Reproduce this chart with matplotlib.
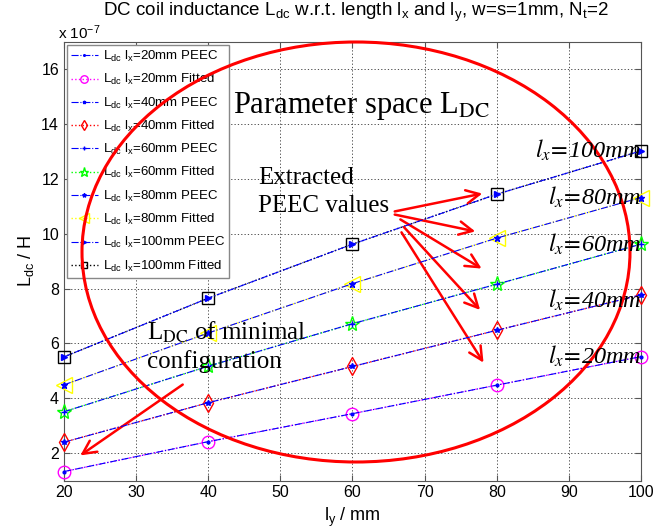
import matplotlib
matplotlib.use("Agg")
import matplotlib.pyplot as plt
from matplotlib.patches import Ellipse

plt.rcParams['font.family'] = ['Liberation Sans', 'DejaVu Sans']
plt.rcParams['mathtext.fontset'] = 'custom'
plt.rcParams['mathtext.rm'] = 'Liberation Sans'
plt.rcParams['mathtext.it'] = 'Liberation Sans:italic'

ly = [20, 40, 60, 80, 100]
lx_labels = ['20', '40', '60', '80', '100']
L_lx20 = [1.33, 2.42, 3.44, 4.48, 5.52]
L_lx40 = [2.40, 3.84, 5.16, 6.48, 7.77]
L_lx60 = [3.51, 5.17, 6.72, 8.16, 9.62]
L_lx80 = [4.49, 6.38, 8.18, 9.84, 11.32]
L_lx100 = [5.51, 7.65, 9.62, 11.44, 13.02]
series = [L_lx20, L_lx40, L_lx60, L_lx80, L_lx100]

peec_markers = ['.', '*', '+', '*', '>']
peec_ms = [4, 4, 5, 5, 5]
fit_colors = ['#ff00ff', '#ff0000', '#00ff00', '#ffff00', '#000000']
fit_markers = ['o', 'd', '*', '<', 's']
fit_ms = [9, 9, 11, 11, 8]

fig = plt.figure(figsize=(6.65, 5.3), dpi=100)
ax = fig.add_axes([0.0962, 0.0932, 0.8677, 0.8281])

for i, vals in enumerate(series):
    ax.plot(ly, vals, linestyle='-.', color='#0000ff', lw=0.8,
            marker=peec_markers[i], ms=peec_ms[i], mfc='#0000ff', mec='#0000ff',
            label=r'L$_{\rm dc}$ l$_{\rm x}$=' + lx_labels[i] + 'mm PEEC', zorder=4, clip_on=False)
    ax.plot(ly, vals, linestyle=':', color=fit_colors[i], lw=1.0,
            marker=fit_markers[i], ms=fit_ms[i], mfc='none', mec=fit_colors[i],
            label=r'L$_{\rm dc}$ l$_{\rm x}$=' + lx_labels[i] + 'mm Fitted', zorder=3, clip_on=False)

ax.set_xlim(20, 100)
ax.set_ylim(1, 17)
ax.set_xticks(range(20, 101, 10))
ax.set_yticks(range(2, 17, 2))
ax.tick_params(direction='in', top=True, right=True, labelsize=11.5, length=4, color='#555555')
for s in ax.spines.values():
    s.set_color('#555555')
ax.grid(True, linestyle=(0, (1.5, 2.5)), color='#333333', lw=0.6)

ax.set_xlabel(r'l$_{\rm y}$ / mm', fontsize=13)
ax.set_ylabel(r'L$_{\rm dc}$ / H', fontsize=13)
fig.text(356 / 665, 1 - 12 / 530,
         r'DC coil inductance L$_{\rm dc}$ w.r.t. length l$_{\rm x}$ and l$_{\rm y}$, w=s=1mm, N$_{\rm t}$=2',
         fontsize=13.5, ha='center', va='center')
ax.text(-0.01, 1.0, r'x 10$^{-7}$', transform=ax.transAxes, fontsize=11, ha='left', va='bottom')

leg = ax.legend(loc='upper left', fontsize=9.5, frameon=True, fancybox=False,
                edgecolor='#888888', borderaxespad=0.25, handlelength=2.0,
                labelspacing=0.62, borderpad=0.3, handletextpad=0.4, markerscale=0.6,
                framealpha=1.0)
leg.get_frame().set_linewidth(1.0)
leg.set_zorder(2)

H = 530
def px(x, y):
    return (x, H - y)

ell = Ellipse(px(356, 252), 548, 420, transform=None, fill=False,
              edgecolor='#ff0000', lw=2.2, zorder=5, clip_on=False)
fig.patches.append(ell)

serif = ['Liberation Serif', 'DejaVu Serif']
fig.text(233 / 665, 1 - 106 / H, r'Parameter space L$_{\mathrm{DC}}$', family=serif,
         fontsize=22, va='center', ha='left', math_fontfamily='stix')
fig.text(258 / 665, 1 - 178 / H, 'Extracted', family=serif, fontsize=18, va='center')
fig.text(258 / 665, 1 - 206 / H, 'PEEC values', family=serif, fontsize=18, va='center')
fig.text(147 / 665, 1 - 332 / H, r'L$_{\mathrm{DC}}$ of minimal', family=serif, fontsize=18,
         va='center', math_fontfamily='stix')
fig.text(147 / 665, 1 - 362 / H, 'configuration', family=serif, fontsize=18, va='center')

right_labels = [('100', 150), ('80', 197), ('60', 244), ('40', 300), ('20', 356)]
for lab, yy in right_labels:
    fig.text(641 / 665, 1 - yy / H, r'$l_x\!=\!$' + lab + 'mm', family=serif, style='italic',
             fontsize=17.5, va='center', ha='right', zorder=6, math_fontfamily='stix')

arrow_kw = dict(arrowstyle='->', color='#ff0000', lw=1.8, mutation_scale=24)
arrows = [((392, 212), (485, 193)), ((392, 214), (478, 232)), ((398, 218), (484, 270)),
          ((402, 225), (482, 312)), ((400, 230), (485, 365)), ((185, 383), (78, 457))]
for (sx, sy), (ex, ey) in arrows:
    ax.annotate('', xy=px(ex, ey), xycoords='figure pixels',
                xytext=px(sx, sy), textcoords='figure pixels',
                arrowprops=arrow_kw, annotation_clip=False)

fig.savefig('out.png', dpi=100)
